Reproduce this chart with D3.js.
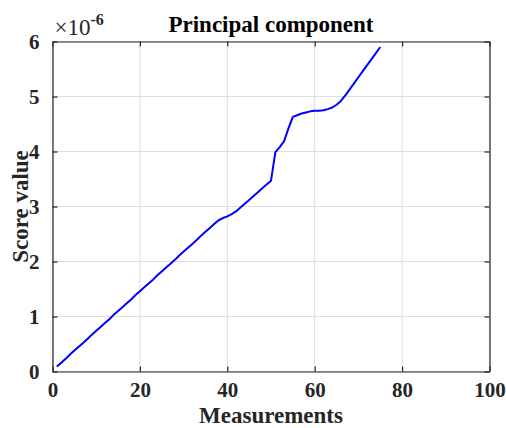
<!DOCTYPE html>
<html>
<head>
<meta charset="utf-8">
<script src="https://cdn.jsdelivr.net/npm/d3@7"></script>
<style>
  html, body { margin: 0; padding: 0; background: #fff; }
  svg text { font-family: "Liberation Serif", "Times New Roman", serif; }
</style>
</head>
<body>
<svg id="chart" width="506" height="428"></svg>
<script>
// Measurement index 1..75
const measurements = [
  1, 2, 3, 4, 5, 6, 7, 8, 9, 10,
  11, 12, 13, 14, 15, 16, 17, 18, 19, 20,
  21, 22, 23, 24, 25, 26, 27, 28, 29, 30,
  31, 32, 33, 34, 35, 36, 37, 38, 39, 40,
  41, 42, 43, 44, 45, 46, 47, 48, 49, 50,
  51, 52, 53, 54, 55, 56, 57, 58, 59, 60,
  61, 62, 63, 64, 65, 66, 67, 68, 69, 70,
  71, 72, 73, 74, 75
];

// Principal component score, in units of 1e-6
const scores = [
  0.09, 0.16, 0.23, 0.31, 0.38, 0.45, 0.52, 0.59, 0.67, 0.74,
  0.81, 0.88, 0.95, 1.03, 1.10, 1.17, 1.24, 1.31, 1.39, 1.46,
  1.53, 1.60, 1.67, 1.75, 1.82, 1.89, 1.96, 2.03, 2.11, 2.18,
  2.25, 2.32, 2.39, 2.47, 2.54, 2.61, 2.68, 2.75, 2.79, 2.82,
  2.86, 2.91, 2.98, 3.05, 3.12, 3.19, 3.26, 3.33, 3.40, 3.47,
  3.99, 4.08, 4.19, 4.42, 4.63, 4.66, 4.69, 4.71, 4.73, 4.74,
  4.74, 4.75, 4.77, 4.80, 4.85, 4.92, 5.02, 5.13, 5.24, 5.35,
  5.46, 5.57, 5.68, 5.79, 5.90
];

const xTicks = [0, 20, 40, 60, 80, 100];
const yTicks = [0, 1, 2, 3, 4, 5, 6];

const titleText = "Principal component";
const xLabelText = "Measurements";
const yLabelText = "Score value";

const svg = d3.select("#chart");
const plotLeft = 52.5, plotRight = 489.5, plotTop = 41.5, plotBottom = 371.5;
const axisColor = "#262626";

const x = d3.scaleLinear().domain([0, 100]).range([plotLeft, plotRight]);
const y = d3.scaleLinear().domain([0, 6]).range([plotBottom, plotTop]);

// grid
const grid = svg.append("g");
grid.selectAll("line.gx").data(xTicks).join("line")
  .attr("x1", d => x(d)).attr("x2", d => x(d))
  .attr("y1", plotTop).attr("y2", plotBottom)
  .attr("stroke", "#dedede").attr("stroke-width", 1);
grid.selectAll("line.gy").data(yTicks).join("line")
  .attr("y1", d => y(d)).attr("y2", d => y(d))
  .attr("x1", plotLeft).attr("x2", plotRight)
  .attr("stroke", "#dedede").attr("stroke-width", 1);

// data line
const line = d3.line()
  .x((d, i) => x(measurements[i]))
  .y(d => y(d));
svg.append("path")
  .datum(scores)
  .attr("d", line)
  .attr("fill", "none")
  .attr("stroke", "#0000ff")
  .attr("stroke-width", 2)
  .attr("stroke-linejoin", "round");

// axes (ticks pointing inward, box on all sides)
const tickLen = 5;
const fmt = d3.format("d");
function styleAxis(g) {
  g.select(".domain").attr("stroke", axisColor).attr("stroke-width", 1.2);
  g.selectAll(".tick line").attr("stroke", axisColor).attr("stroke-width", 1.2);
  g.selectAll(".tick text")
    .attr("fill", axisColor)
    .attr("font-size", 21)
    .attr("font-weight", "bold");
}

svg.append("g")
  .attr("transform", `translate(0,${plotBottom})`)
  .call(d3.axisBottom(x).tickValues(xTicks).tickFormat(fmt)
    .tickSizeInner(-tickLen).tickSizeOuter(0).tickPadding(11))
  .call(styleAxis);

svg.append("g")
  .attr("transform", `translate(0,${plotTop})`)
  .call(d3.axisTop(x).tickValues(xTicks).tickFormat("")
    .tickSizeInner(-tickLen).tickSizeOuter(0))
  .call(styleAxis);

svg.append("g")
  .attr("transform", `translate(${plotLeft},0)`)
  .call(d3.axisLeft(y).tickValues(yTicks).tickFormat(fmt)
    .tickSizeInner(-tickLen).tickSizeOuter(0).tickPadding(13))
  .call(styleAxis);

svg.append("g")
  .attr("transform", `translate(${plotRight},0)`)
  .call(d3.axisRight(y).tickValues(yTicks).tickFormat("")
    .tickSizeInner(-tickLen).tickSizeOuter(0))
  .call(styleAxis);

// exponent label
const expo = svg.append("text")
  .attr("x", plotLeft + 2).attr("y", 35)
  .attr("fill", axisColor)
  .attr("font-size", 23);
expo.append("tspan").text("\u00d710");
expo.append("tspan").attr("dy", -10).attr("font-size", 16).attr("font-weight", "bold").text("-6");

// title
svg.append("text")
  .attr("x", (plotLeft + plotRight) / 2).attr("y", 32)
  .attr("text-anchor", "middle")
  .attr("font-size", 23).attr("font-weight", "bold")
  .attr("fill", "#000")
  .text(titleText);

// axis labels
svg.append("text")
  .attr("x", (plotLeft + plotRight) / 2).attr("y", 423)
  .attr("text-anchor", "middle")
  .attr("font-size", 23).attr("font-weight", "bold")
  .attr("fill", axisColor)
  .text(xLabelText);

svg.append("text")
  .attr("transform", `translate(28,${(plotTop + plotBottom) / 2}) rotate(-90)`)
  .attr("text-anchor", "middle")
  .attr("font-size", 23).attr("font-weight", "bold")
  .attr("fill", axisColor)
  .text(yLabelText);
</script>
</body>
</html>
